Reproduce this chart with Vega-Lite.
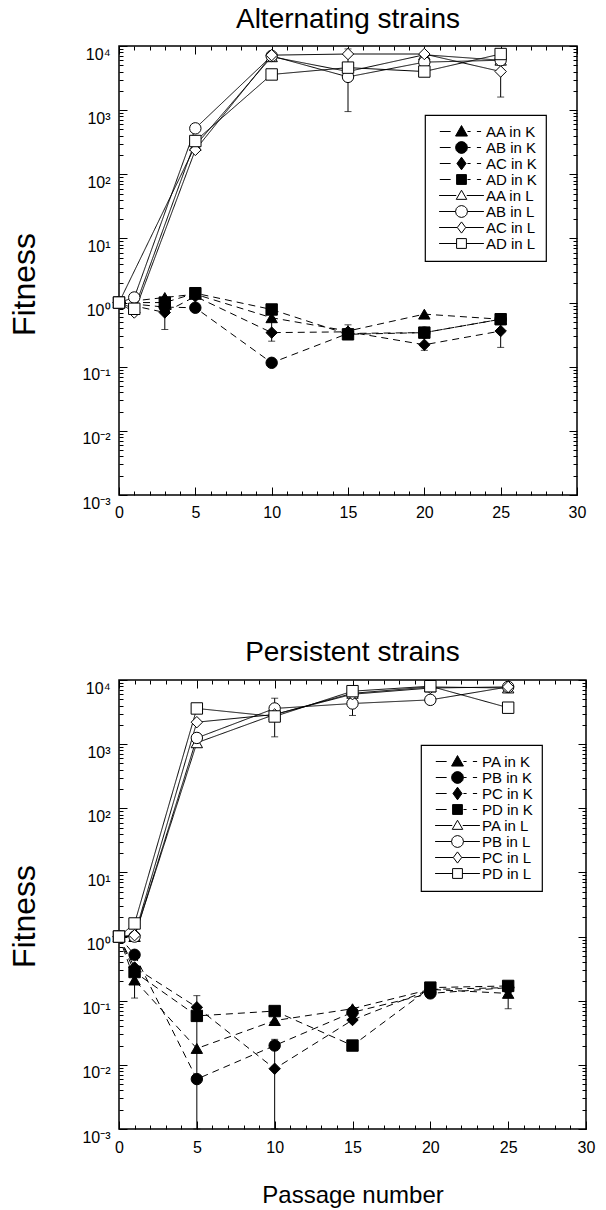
{
  "$schema": "https://vega.github.io/schema/vega-lite/v6.json",
  "background": "white",
  "padding": {"left": 8, "top": 4, "right": 0, "bottom": 0},
  "spacing": 112,
  "resolve": {"scale": {"x": "independent", "y": "independent", "shape": "independent", "fill": "independent", "stroke": "independent", "strokeDash": "independent"}, "legend": {"shape": "independent", "fill": "independent", "stroke": "independent"}},
  "config": {
    "font": "Liberation Sans",
    "view": {"stroke": "black", "strokeWidth": 1.5},
    "axis": {"labelFont": "Liberation Sans", "labelColor": "black", "titleFont": "Liberation Sans", "titleColor": "black", "titleFontWeight": "normal", "domain": false, "grid": false, "tickColor": "black", "tickWidth": 1, "labelOverlap": false, "labelFlush": false, "labelBound": false},
    "title": {"font": "Liberation Sans", "fontSize": 28, "fontWeight": "normal", "color": "black", "anchor": "middle"},
    "legend": {"labelFont": "Liberation Sans", "labelFontSize": 15, "labelColor": "black", "strokeColor": "black", "strokeWidth": 1.2, "fillColor": "white", "padding": 9, "symbolSize": 196, "rowPadding": -2, "symbolOffset": 20, "labelOffset": 17, "symbolStrokeWidth": 1, "symbolOpacity": 1}
  },
  "datasets": {
    "alt": [
      {"series": "AA in K", "group": "K", "x": 0, "y": 1}, {"series": "AA in K", "group": "K", "x": 3, "y": 1.2}, {"series": "AA in K", "group": "K", "x": 5, "y": 1.35}, {"series": "AA in K", "group": "K", "x": 10, "y": 0.58}, {"series": "AA in K", "group": "K", "x": 15, "y": 0.36}, {"series": "AA in K", "group": "K", "x": 20, "y": 0.66}, {"series": "AA in K", "group": "K", "x": 25, "y": 0.55},
      {"series": "AB in K", "group": "K", "x": 0, "y": 1}, {"series": "AB in K", "group": "K", "x": 3, "y": 0.85}, {"series": "AB in K", "group": "K", "x": 5, "y": 0.83}, {"series": "AB in K", "group": "K", "x": 10, "y": 0.115}, {"series": "AB in K", "group": "K", "x": 15, "y": 0.33}, {"series": "AB in K", "group": "K", "x": 20, "y": 0.34}, {"series": "AB in K", "group": "K", "x": 25, "y": 0.55},
      {"series": "AC in K", "group": "K", "x": 0, "y": 1}, {"series": "AC in K", "group": "K", "x": 3, "y": 0.7}, {"series": "AC in K", "group": "K", "x": 5, "y": 1.25}, {"series": "AC in K", "group": "K", "x": 10, "y": 0.34}, {"series": "AC in K", "group": "K", "x": 15, "y": 0.35}, {"series": "AC in K", "group": "K", "x": 20, "y": 0.22}, {"series": "AC in K", "group": "K", "x": 25, "y": 0.36},
      {"series": "AD in K", "group": "K", "x": 0, "y": 1}, {"series": "AD in K", "group": "K", "x": 3, "y": 1.0}, {"series": "AD in K", "group": "K", "x": 5, "y": 1.4}, {"series": "AD in K", "group": "K", "x": 10, "y": 0.78}, {"series": "AD in K", "group": "K", "x": 15, "y": 0.32}, {"series": "AD in K", "group": "K", "x": 20, "y": 0.34}, {"series": "AD in K", "group": "K", "x": 25, "y": 0.55},
      {"series": "AA in L", "group": "L", "x": 0, "y": 1}, {"series": "AA in L", "group": "L", "x": 5, "y": 280}, {"series": "AA in L", "group": "L", "x": 10, "y": 6800}, {"series": "AA in L", "group": "L", "x": 15, "y": 4000}, {"series": "AA in L", "group": "L", "x": 20, "y": 7300}, {"series": "AA in L", "group": "L", "x": 25, "y": 6000},
      {"series": "AB in L", "group": "L", "x": 0, "y": 1}, {"series": "AB in L", "group": "L", "x": 1, "y": 1.2}, {"series": "AB in L", "group": "L", "x": 5, "y": 520}, {"series": "AB in L", "group": "L", "x": 10, "y": 7000}, {"series": "AB in L", "group": "L", "x": 15, "y": 3300}, {"series": "AB in L", "group": "L", "x": 20, "y": 5600}, {"series": "AB in L", "group": "L", "x": 25, "y": 6000},
      {"series": "AC in L", "group": "L", "x": 0, "y": 1}, {"series": "AC in L", "group": "L", "x": 1, "y": 0.7}, {"series": "AC in L", "group": "L", "x": 5, "y": 240}, {"series": "AC in L", "group": "L", "x": 10, "y": 7200}, {"series": "AC in L", "group": "L", "x": 15, "y": 7500}, {"series": "AC in L", "group": "L", "x": 20, "y": 7500}, {"series": "AC in L", "group": "L", "x": 25, "y": 4000},
      {"series": "AD in L", "group": "L", "x": 0, "y": 1}, {"series": "AD in L", "group": "L", "x": 1, "y": 0.8}, {"series": "AD in L", "group": "L", "x": 5, "y": 330}, {"series": "AD in L", "group": "L", "x": 10, "y": 3600}, {"series": "AD in L", "group": "L", "x": 15, "y": 4600}, {"series": "AD in L", "group": "L", "x": 20, "y": 4000}, {"series": "AD in L", "group": "L", "x": 25, "y": 7500}
    ],
    "alt_err": [
      {"x": 3, "lo": 0.38, "hi": 1.2},
      {"x": 10, "lo": 0.25, "hi": 0.55},
      {"x": 15, "lo": 0.27, "hi": 0.45},
      {"x": 20, "lo": 0.18, "hi": 0.3},
      {"x": 25, "lo": 0.2, "hi": 0.5},
      {"x": 15, "lo": 950, "hi": 9000},
      {"x": 25, "lo": 1600, "hi": 7000}
    ],
    "per": [
      {"series": "PA in K", "group": "K", "x": 0, "y": 1}, {"series": "PA in K", "group": "K", "x": 1, "y": 0.21}, {"series": "PA in K", "group": "K", "x": 5, "y": 0.018}, {"series": "PA in K", "group": "K", "x": 10, "y": 0.049}, {"series": "PA in K", "group": "K", "x": 15, "y": 0.075}, {"series": "PA in K", "group": "K", "x": 20, "y": 0.15}, {"series": "PA in K", "group": "K", "x": 25, "y": 0.13},
      {"series": "PB in K", "group": "K", "x": 0, "y": 1}, {"series": "PB in K", "group": "K", "x": 1, "y": 0.52}, {"series": "PB in K", "group": "K", "x": 5, "y": 0.006}, {"series": "PB in K", "group": "K", "x": 10, "y": 0.02}, {"series": "PB in K", "group": "K", "x": 15, "y": 0.066}, {"series": "PB in K", "group": "K", "x": 20, "y": 0.13}, {"series": "PB in K", "group": "K", "x": 25, "y": 0.16},
      {"series": "PC in K", "group": "K", "x": 0, "y": 1}, {"series": "PC in K", "group": "K", "x": 1, "y": 0.33}, {"series": "PC in K", "group": "K", "x": 5, "y": 0.079}, {"series": "PC in K", "group": "K", "x": 10, "y": 0.0087}, {"series": "PC in K", "group": "K", "x": 15, "y": 0.05}, {"series": "PC in K", "group": "K", "x": 20, "y": 0.15}, {"series": "PC in K", "group": "K", "x": 25, "y": 0.16},
      {"series": "PD in K", "group": "K", "x": 0, "y": 1}, {"series": "PD in K", "group": "K", "x": 1, "y": 0.28}, {"series": "PD in K", "group": "K", "x": 5, "y": 0.058}, {"series": "PD in K", "group": "K", "x": 10, "y": 0.069}, {"series": "PD in K", "group": "K", "x": 15, "y": 0.02}, {"series": "PD in K", "group": "K", "x": 20, "y": 0.16}, {"series": "PD in K", "group": "K", "x": 25, "y": 0.17},
      {"series": "PA in L", "group": "L", "x": 0, "y": 1}, {"series": "PA in L", "group": "L", "x": 1, "y": 1.0}, {"series": "PA in L", "group": "L", "x": 5, "y": 1050}, {"series": "PA in L", "group": "L", "x": 10, "y": 2900}, {"series": "PA in L", "group": "L", "x": 15, "y": 6200}, {"series": "PA in L", "group": "L", "x": 20, "y": 7800}, {"series": "PA in L", "group": "L", "x": 25, "y": 7500},
      {"series": "PB in L", "group": "L", "x": 0, "y": 1}, {"series": "PB in L", "group": "L", "x": 1, "y": 1.0}, {"series": "PB in L", "group": "L", "x": 5, "y": 1250}, {"series": "PB in L", "group": "L", "x": 10, "y": 3600}, {"series": "PB in L", "group": "L", "x": 15, "y": 4300}, {"series": "PB in L", "group": "L", "x": 20, "y": 4900}, {"series": "PB in L", "group": "L", "x": 25, "y": 7800},
      {"series": "PC in L", "group": "L", "x": 0, "y": 1}, {"series": "PC in L", "group": "L", "x": 1, "y": 1.05}, {"series": "PC in L", "group": "L", "x": 5, "y": 2200}, {"series": "PC in L", "group": "L", "x": 10, "y": 2900}, {"series": "PC in L", "group": "L", "x": 15, "y": 6000}, {"series": "PC in L", "group": "L", "x": 20, "y": 7500}, {"series": "PC in L", "group": "L", "x": 25, "y": 7800},
      {"series": "PD in L", "group": "L", "x": 0, "y": 1}, {"series": "PD in L", "group": "L", "x": 1, "y": 1.6}, {"series": "PD in L", "group": "L", "x": 5, "y": 3600}, {"series": "PD in L", "group": "L", "x": 10, "y": 2700}, {"series": "PD in L", "group": "L", "x": 15, "y": 6700}, {"series": "PD in L", "group": "L", "x": 20, "y": 8000}, {"series": "PD in L", "group": "L", "x": 25, "y": 3700}
    ],
    "per_err": [
      {"x": 1, "lo": 0.11, "hi": 0.3},
      {"x": 5, "lo": 0.001, "hi": 0.12},
      {"x": 10, "lo": 0.001, "hi": 0.025},
      {"x": 25, "lo": 0.075, "hi": 0.19},
      {"x": 10, "lo": 1300, "hi": 5200},
      {"x": 15, "lo": 2800, "hi": 6000}
    ]
  },
  "vconcat": [
    {
      "title": {"text": "Alternating strains", "offset": 12},
      "width": 458,
      "height": 449,
      "resolve": {"axis": {"x": "independent", "y": "independent"}, "scale": {"shape": "independent", "fill": "independent", "stroke": "independent"}, "legend": {"shape": "independent", "fill": "independent", "stroke": "independent"}},
      "layer": [
        {
          "mark": {"type": "rule", "color": "black", "strokeWidth": 1.5},
          "encoding": {"y": {"datum": 1, "type": "quantitative", "scale": {"type": "log", "domain": [0.001, 10000], "nice": false}, "axis": null}}
        },
        {
          "data": {"name": "alt_err"},
          "mark": {"type": "errorbar", "color": "black", "thickness": 1, "ticks": {"size": 7, "color": "black"}},
          "encoding": {
            "x": {"field": "x", "type": "quantitative", "scale": {"domain": [0, 30], "nice": false}, "axis": null},
            "y": {"field": "lo", "type": "quantitative", "scale": {"type": "log", "domain": [0.001, 10000], "nice": false}, "axis": null},
            "y2": {"field": "hi"}
          }
        },
        {
          "data": {"name": "alt"},
          "mark": {"type": "line", "color": "black", "strokeWidth": 1},
          "encoding": {
            "x": {"field": "x", "type": "quantitative", "scale": {"domain": [0, 30], "nice": false},
              "axis": {"orient": "top", "values": [0,1,2,3,4,5,6,7,8,9,10,11,12,13,14,15,16,17,18,19,20,21,22,23,24,25,26,27,28,29,30], "labels": false, "title": null, "tickSize": {"condition": {"test": "datum.value % 5 == 0", "value": -8}, "value": -4}}},
            "y": {"field": "y", "type": "quantitative", "scale": {"type": "log", "domain": [0.001, 10000], "nice": false},
              "axis": {"orient": "right", "values": [0.001,0.002,0.003,0.004,0.005,0.006,0.007,0.008,0.009,0.01,0.02,0.03,0.04,0.05,0.06,0.07,0.08,0.09,0.1,0.2,0.3,0.4,0.5,0.6,0.7,0.8,0.9,1,2,3,4,5,6,7,8,9,10,20,30,40,50,60,70,80,90,100,200,300,400,500,600,700,800,900,1000,2000,3000,4000,5000,6000,7000,8000,9000,10000], "labels": false, "title": null, "tickSize": {"condition": {"test": "abs(log(datum.value)/LN10 - round(log(datum.value)/LN10)) < 0.01", "value": -8}, "value": -4}}},
            "detail": {"field": "series", "type": "nominal"},
            "strokeDash": {"field": "group", "type": "nominal", "scale": {"domain": ["K", "L"], "range": [[7, 5], [1, 0]]}, "legend": null}
          }
        },
        {
          "data": {"name": "alt"},
          "mark": {"type": "point", "filled": true, "stroke": "black", "strokeWidth": 1, "size": 130, "opacity": 1},
          "encoding": {
            "x": {"field": "x", "type": "quantitative", "scale": {"domain": [0, 30], "nice": false},
              "axis": {"orient": "bottom", "values": [0,1,2,3,4,5,6,7,8,9,10,11,12,13,14,15,16,17,18,19,20,21,22,23,24,25,26,27,28,29,30], "labelExpr": "datum.value % 5 == 0 ? datum.label : ''", "labelFontSize": 16, "labelPadding": 17, "title": null, "tickSize": {"condition": {"test": "datum.value % 5 == 0", "value": -8}, "value": -4}}},
            "y": {"field": "y", "type": "quantitative", "scale": {"type": "log", "domain": [0.001, 10000], "nice": false},
              "axis": {"orient": "left", "values": [0.001,0.002,0.003,0.004,0.005,0.006,0.007,0.008,0.009,0.01,0.02,0.03,0.04,0.05,0.06,0.07,0.08,0.09,0.1,0.2,0.3,0.4,0.5,0.6,0.7,0.8,0.9,1,2,3,4,5,6,7,8,9,10,20,30,40,50,60,70,80,90,100,200,300,400,500,600,700,800,900,1000,2000,3000,4000,5000,6000,7000,8000,9000,10000], "labelExpr": "abs(log(datum.value)/LN10 - round(log(datum.value)/LN10)) < 0.01 ? '10' + (datum.value < 0.9 ? '⁻' : '') + ['⁰','¹','²','³','⁴'][abs(round(log(datum.value)/LN10))] : ''", "labelFontSize": 16, "labelPadding": 17, "labelBaseline": "middle", "labelOffset": 8, "title": "Fitness", "titleFontSize": 32, "titlePadding": 40, "titleY": 238, "tickSize": {"condition": {"test": "abs(log(datum.value)/LN10 - round(log(datum.value)/LN10)) < 0.01", "value": -8}, "value": -4}}},
            "shape": {"field": "series", "type": "nominal",
              "scale": {"domain": ["AA in K", "AB in K", "AC in K", "AD in K", "AA in L", "AB in L", "AC in L", "AD in L"], "range": ["triangle-up", "circle", "diamond", "square", "triangle-up", "circle", "diamond", "square"]},
              "legend": null},
            "fill": {"field": "group", "type": "nominal", "scale": {"domain": ["K", "L"], "range": ["black", "white"]}, "legend": null}
          }
        },
        {
          "data": {"name": "alt"},
          "transform": [{"filter": "datum.x < 0"}],
          "mark": {"type": "point", "filled": true, "strokeWidth": 1},
          "encoding": {
            "shape": {"field": "series", "type": "nominal",
              "scale": {"domain": ["AA in K", "AB in K", "AC in K", "AD in K", "AA in L", "AB in L", "AC in L", "AD in L"],
                "range": [
                  "M-3.1,0H-1.55M0.85,0H1.3M2.2,0H2.8M0,-0.85L0.85,0.65L-0.85,0.65Z",
                  "M-3.1,0H-1.55M0.85,0H1.3M2.2,0H2.8M0.85,0L0.74,0.43L0.43,0.74L0,0.85L-0.43,0.74L-0.74,0.43L-0.85,0L-0.74,-0.43L-0.43,-0.74L0,-0.85L0.43,-0.74L0.74,-0.43Z",
                  "M-3.1,0H-1.55M0.85,0H1.3M2.2,0H2.8M0,-0.9L0.65,0L0,0.9L-0.65,0Z",
                  "M-3.1,0H-1.55M0.85,0H1.3M2.2,0H2.8M-0.7,-0.7H0.7V0.7H-0.7Z",
                  "M-3.2,0H-0.75M0.75,0H3.2M0,-0.75L0.75,0.55L-0.75,0.55Z",
                  "M-3.2,0H-0.85M0.85,0H3.2M0.85,0L0.74,0.43L0.43,0.74L0,0.85L-0.43,0.74L-0.74,0.43L-0.85,0L-0.74,-0.43L-0.43,-0.74L0,-0.85L0.43,-0.74L0.74,-0.43Z",
                  "M-3.2,0H-0.6M0.6,0H3.2M0,-0.8L0.6,0L0,0.8L-0.6,0Z",
                  "M-3.2,0H-0.7M0.7,0H3.2M-0.7,-0.7H0.7V0.7H-0.7Z"
                ]},
              "legend": {"orient": "none", "legendX": 306, "legendY": 69, "title": null}},
            "fill": {"field": "series", "type": "nominal",
              "scale": {"domain": ["AA in K", "AB in K", "AC in K", "AD in K", "AA in L", "AB in L", "AC in L", "AD in L"], "range": ["black", "black", "black", "black", "white", "white", "white", "white"]},
              "legend": {"orient": "none", "legendX": 306, "legendY": 69, "title": null}},
            "stroke": {"field": "series", "type": "nominal",
              "scale": {"domain": ["AA in K", "AB in K", "AC in K", "AD in K", "AA in L", "AB in L", "AC in L", "AD in L"], "range": ["black", "black", "black", "black", "black", "black", "black", "black"]},
              "legend": {"orient": "none", "legendX": 306, "legendY": 69, "title": null}}
          }
        }
      ]
    },
    {
      "title": {"text": "Persistent strains", "offset": 12},
      "width": 467,
      "height": 449,
      "resolve": {"axis": {"x": "independent", "y": "independent"}, "scale": {"shape": "independent", "fill": "independent", "stroke": "independent"}, "legend": {"shape": "independent", "fill": "independent", "stroke": "independent"}},
      "layer": [
        {
          "mark": {"type": "rule", "color": "black", "strokeWidth": 1.5},
          "encoding": {"y": {"datum": 1, "type": "quantitative", "scale": {"type": "log", "domain": [0.001, 10000], "nice": false}, "axis": null}}
        },
        {
          "data": {"name": "per_err"},
          "mark": {"type": "errorbar", "color": "black", "thickness": 1, "ticks": {"size": 7, "color": "black"}},
          "encoding": {
            "x": {"field": "x", "type": "quantitative", "scale": {"domain": [0, 30], "nice": false}, "axis": null},
            "y": {"field": "lo", "type": "quantitative", "scale": {"type": "log", "domain": [0.001, 10000], "nice": false}, "axis": null},
            "y2": {"field": "hi"}
          }
        },
        {
          "data": {"name": "per"},
          "mark": {"type": "line", "color": "black", "strokeWidth": 1},
          "encoding": {
            "x": {"field": "x", "type": "quantitative", "scale": {"domain": [0, 30], "nice": false},
              "axis": {"orient": "top", "values": [0,1,2,3,4,5,6,7,8,9,10,11,12,13,14,15,16,17,18,19,20,21,22,23,24,25,26,27,28,29,30], "labels": false, "title": null, "tickSize": {"condition": {"test": "datum.value % 5 == 0", "value": -8}, "value": -4}}},
            "y": {"field": "y", "type": "quantitative", "scale": {"type": "log", "domain": [0.001, 10000], "nice": false},
              "axis": {"orient": "right", "values": [0.001,0.002,0.003,0.004,0.005,0.006,0.007,0.008,0.009,0.01,0.02,0.03,0.04,0.05,0.06,0.07,0.08,0.09,0.1,0.2,0.3,0.4,0.5,0.6,0.7,0.8,0.9,1,2,3,4,5,6,7,8,9,10,20,30,40,50,60,70,80,90,100,200,300,400,500,600,700,800,900,1000,2000,3000,4000,5000,6000,7000,8000,9000,10000], "labels": false, "title": null, "tickSize": {"condition": {"test": "abs(log(datum.value)/LN10 - round(log(datum.value)/LN10)) < 0.01", "value": -8}, "value": -4}}},
            "detail": {"field": "series", "type": "nominal"},
            "strokeDash": {"field": "group", "type": "nominal", "scale": {"domain": ["K", "L"], "range": [[7, 5], [1, 0]]}, "legend": null}
          }
        },
        {
          "data": {"name": "per"},
          "mark": {"type": "point", "filled": true, "stroke": "black", "strokeWidth": 1, "size": 130, "opacity": 1},
          "encoding": {
            "x": {"field": "x", "type": "quantitative", "scale": {"domain": [0, 30], "nice": false},
              "axis": {"orient": "bottom", "values": [0,1,2,3,4,5,6,7,8,9,10,11,12,13,14,15,16,17,18,19,20,21,22,23,24,25,26,27,28,29,30], "labelExpr": "datum.value % 5 == 0 ? datum.label : ''", "labelFontSize": 16, "labelPadding": 18, "title": "Passage number", "titleFontSize": 24, "titlePadding": 24, "tickSize": {"condition": {"test": "datum.value % 5 == 0", "value": -8}, "value": -4}}},
            "y": {"field": "y", "type": "quantitative", "scale": {"type": "log", "domain": [0.001, 10000], "nice": false},
              "axis": {"orient": "left", "values": [0.001,0.002,0.003,0.004,0.005,0.006,0.007,0.008,0.009,0.01,0.02,0.03,0.04,0.05,0.06,0.07,0.08,0.09,0.1,0.2,0.3,0.4,0.5,0.6,0.7,0.8,0.9,1,2,3,4,5,6,7,8,9,10,20,30,40,50,60,70,80,90,100,200,300,400,500,600,700,800,900,1000,2000,3000,4000,5000,6000,7000,8000,9000,10000], "labelExpr": "abs(log(datum.value)/LN10 - round(log(datum.value)/LN10)) < 0.01 ? '10' + (datum.value < 0.9 ? '⁻' : '') + ['⁰','¹','²','³','⁴'][abs(round(log(datum.value)/LN10))] : ''", "labelFontSize": 16, "labelPadding": 17, "labelBaseline": "middle", "labelOffset": 8, "title": "Fitness", "titleFontSize": 32, "titlePadding": 40, "titleY": 236, "tickSize": {"condition": {"test": "abs(log(datum.value)/LN10 - round(log(datum.value)/LN10)) < 0.01", "value": -8}, "value": -4}}},
            "shape": {"field": "series", "type": "nominal",
              "scale": {"domain": ["PA in K", "PB in K", "PC in K", "PD in K", "PA in L", "PB in L", "PC in L", "PD in L"], "range": ["triangle-up", "circle", "diamond", "square", "triangle-up", "circle", "diamond", "square"]},
              "legend": null},
            "fill": {"field": "group", "type": "nominal", "scale": {"domain": ["K", "L"], "range": ["black", "white"]}, "legend": null}
          }
        },
        {
          "data": {"name": "per"},
          "transform": [{"filter": "datum.x < 0"}],
          "mark": {"type": "point", "filled": true, "strokeWidth": 1},
          "encoding": {
            "shape": {"field": "series", "type": "nominal",
              "scale": {"domain": ["PA in K", "PB in K", "PC in K", "PD in K", "PA in L", "PB in L", "PC in L", "PD in L"],
                "range": [
                  "M-3.1,0H-1.55M0.85,0H1.3M2.2,0H2.8M0,-0.85L0.85,0.65L-0.85,0.65Z",
                  "M-3.1,0H-1.55M0.85,0H1.3M2.2,0H2.8M0.85,0L0.74,0.43L0.43,0.74L0,0.85L-0.43,0.74L-0.74,0.43L-0.85,0L-0.74,-0.43L-0.43,-0.74L0,-0.85L0.43,-0.74L0.74,-0.43Z",
                  "M-3.1,0H-1.55M0.85,0H1.3M2.2,0H2.8M0,-0.9L0.65,0L0,0.9L-0.65,0Z",
                  "M-3.1,0H-1.55M0.85,0H1.3M2.2,0H2.8M-0.7,-0.7H0.7V0.7H-0.7Z",
                  "M-3.2,0H-0.75M0.75,0H3.2M0,-0.75L0.75,0.55L-0.75,0.55Z",
                  "M-3.2,0H-0.85M0.85,0H3.2M0.85,0L0.74,0.43L0.43,0.74L0,0.85L-0.43,0.74L-0.74,0.43L-0.85,0L-0.74,-0.43L-0.43,-0.74L0,-0.85L0.43,-0.74L0.74,-0.43Z",
                  "M-3.2,0H-0.6M0.6,0H3.2M0,-0.8L0.6,0L0,0.8L-0.6,0Z",
                  "M-3.2,0H-0.7M0.7,0H3.2M-0.7,-0.7H0.7V0.7H-0.7Z"
                ]},
              "legend": {"orient": "none", "legendX": 302, "legendY": 65, "title": null}},
            "fill": {"field": "series", "type": "nominal",
              "scale": {"domain": ["PA in K", "PB in K", "PC in K", "PD in K", "PA in L", "PB in L", "PC in L", "PD in L"], "range": ["black", "black", "black", "black", "white", "white", "white", "white"]},
              "legend": {"orient": "none", "legendX": 302, "legendY": 65, "title": null}},
            "stroke": {"field": "series", "type": "nominal",
              "scale": {"domain": ["PA in K", "PB in K", "PC in K", "PD in K", "PA in L", "PB in L", "PC in L", "PD in L"], "range": ["black", "black", "black", "black", "black", "black", "black", "black"]},
              "legend": {"orient": "none", "legendX": 302, "legendY": 65, "title": null}}
          }
        }
      ]
    }
  ]
}
